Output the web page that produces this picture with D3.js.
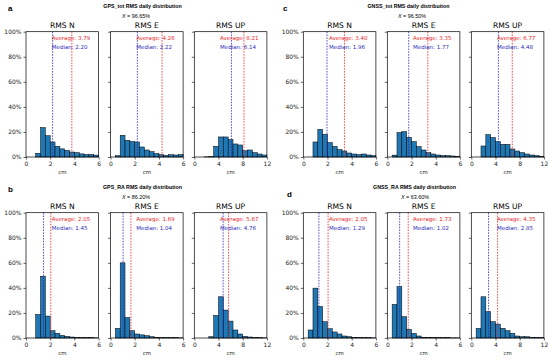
<!DOCTYPE html>
<html>
<head>
<meta charset="utf-8">
<script src="https://cdn.jsdelivr.net/npm/d3@7/dist/d3.min.js"></script>
<style>
  html, body { margin: 0; padding: 0; background: #fff; }
  svg { display: block; }
  .mpl { font-family: 'DejaVu Sans', sans-serif; }
  .head { font-family: 'Liberation Sans', Arial, sans-serif; }
</style>
</head>
<body>
<script>
'use strict';

// ---- data ----
const components = ['RMS N', 'RMS E', 'RMS UP'];
const groupLetters = ['a', 'b', 'c', 'd'];
const groupTitles = [
  'GPS_tot RMS daily distribution',
  'GPS_RA RMS daily distribution',
  'GNSS_tot RMS daily distribution',
  'GNSS_RA RMS daily distribution'
];
const groupShares = ['96.65%', '86.20%', '96.50%', '63.60%'];

const averages = [
  [3.79, 4.26, 8.21],
  [2.05, 1.69, 5.67],
  [3.40, 3.35, 6.77],
  [2.05, 1.73, 4.35]
];
const medians = [
  [2.20, 2.22, 6.14],
  [1.45, 1.04, 4.76],
  [1.96, 1.77, 4.48],
  [1.29, 1.02, 2.85]
];

// x ranges (cm) and bin widths: N and E on 0–6, UP on 0–12
const xMax = [6, 6, 12];
const binWidth = [0.4, 0.4, 0.8];
const xTicks = [[0, 2, 4, 6], [0, 2, 4, 6], [0, 4, 8, 12]];
const yTicks = [0, 20, 40, 60, 80, 100];

// share of days per bin (%)
const gpsTotN = [0, 0, 3, 23.5, 17, 12, 8.5, 6.5, 5.3, 4, 3.5, 2.5, 2, 2, 1.5];
const gpsTotE = [0, 1, 17.3, 13.3, 12.3, 12, 8, 5.6, 4.3, 2.7, 1.9, 1.3, 1.9, 1.6, 1.9];
const gpsTotUp = [0, 0, 0.1, 0.2, 8.5, 16, 16, 13.9, 10.4, 9.6, 5, 5.6, 3.5, 2.4, 1.6];

const gpsRaN = [0, 0, 18.8, 49.3, 17.5, 5.8, 3.7, 2.1, 1.3, 0.8, 0.3, 0.3, 0.3, 0.2, 0.1];
const gpsRaE = [0, 7.7, 60, 16.2, 5.8, 3.2, 2.5, 1.8, 1, 0.6, 0.3, 0.3, 0.2, 0.2, 0.1];
const gpsRaUp = [0, 0, 0, 1, 18, 32.9, 22.3, 13.5, 6.4, 3.2, 1.3, 0.8, 0.3, 0.2, 0.1];

const gnssTotN = [0, 0, 12, 22.1, 18.1, 11.5, 8.5, 5.9, 4.8, 3.2, 2.4, 1.9, 2.4, 1.6, 1.1];
const gnssTotE = [0, 1.5, 19.5, 20.3, 15.7, 12.3, 8.3, 5.6, 3.5, 2.4, 1.6, 1.1, 1.1, 0.8, 0.5];
const gnssTotUp = [0, 0, 8.8, 17.9, 15.5, 12.3, 10.1, 10.1, 6.4, 4.8, 3.5, 2.4, 1.6, 1.1, 0.5];

const gnssRaN = [0, 6.4, 39.8, 25.2, 13, 7.4, 4.8, 3.2, 1.6, 1, 0.6, 0.3, 0.3, 0.2, 0.1];
const gnssRaE = [0, 26.8, 41, 17, 6.9, 3.7, 1.6, 0.6, 0.4, 0.3, 0.3, 0.2, 0.2, 0.1, 0.1];
const gnssRaUp = [0, 7.7, 32.9, 21, 13, 11.1, 7.7, 5.8, 3.7, 1.6, 1, 1, 0.6, 0.5, 0.3];

const histograms = [
  [gpsTotN, gpsTotE, gpsTotUp],
  [gpsRaN, gpsRaE, gpsRaUp],
  [gnssTotN, gnssTotE, gnssTotUp],
  [gnssRaN, gnssRaE, gnssRaUp]
];

// ---- layout ----
const width = 550;
const height = 361;
const axWidth = 72.6;
const axHeight = 125.3;
const colLefts = [[26, 110.5, 194.3], [303.3, 387.3, 471.3]];
const rowTops = [31.7, 212.7];
const groupCol = [0, 0, 1, 1];
const groupRow = [0, 1, 0, 1];
const titleCenter = [142.5, 142.5, 408.5, 414.5];
const shareCenter = [136, 136, 412, 415];
const letterPos = [[8, 11], [8, 192], [283, 11], [287, 197]];

const avgColor = '#e8262a';
const medColor = '#2a2ab8';
const barColor = '#1f77b4';

const svg = d3.select('body').append('svg')
  .attr('width', width)
  .attr('height', height);

groupLetters.forEach(function(letter, g) {
  const top = rowTops[groupRow[g]];
  const lefts = colLefts[groupCol[g]];

  svg.append('text')
    .attr('class', 'head')
    .attr('x', letterPos[g][0])
    .attr('y', letterPos[g][1])
    .style('font-size', '8px')
    .style('font-weight', 'bold')
    .text(letter);

  svg.append('text')
    .attr('class', 'head')
    .attr('x', titleCenter[g])
    .attr('y', top - 23.3)
    .attr('text-anchor', 'middle')
    .style('font-size', '5.3px')
    .style('font-weight', 'bold')
    .text(groupTitles[g]);

  const share = svg.append('text')
    .attr('class', 'head')
    .attr('x', shareCenter[g])
    .attr('y', top - 14)
    .attr('text-anchor', 'middle')
    .style('font-size', '5.4px');
  share.append('tspan').style('font-style', 'italic').text('X');
  share.append('tspan').text(' = ' + groupShares[g]);

  components.forEach(function(comp, c) {
    drawPanel(lefts[c], top, c, histograms[g][c], averages[g][c], medians[g][c], comp, c === 0);
  });
});

function drawPanel(left, top, c, values, avg, med, title, showYLabels) {
  const x = d3.scaleLinear().domain([0, xMax[c]]).range([0, axWidth]);
  const y = d3.scaleLinear().domain([0, 100]).range([axHeight, 0]);
  const bins = values.map(function(v, i) {
    return { x0: i * binWidth[c], x1: (i + 1) * binWidth[c], v: v };
  });

  const g = svg.append('g')
    .attr('class', 'mpl')
    .attr('transform', 'translate(' + left + ',' + top + ')');

  g.selectAll('rect.bar')
    .data(bins)
    .enter().append('rect')
    .attr('class', 'bar')
    .attr('x', function(d) { return x(d.x0); })
    .attr('width', function(d) { return x(d.x1) - x(d.x0); })
    .attr('y', function(d) { return y(d.v); })
    .attr('height', function(d) { return axHeight - y(d.v); })
    .attr('fill', barColor)
    .attr('stroke', '#000')
    .attr('stroke-width', 0.5);

  g.append('line')
    .attr('x1', x(med)).attr('x2', x(med))
    .attr('y1', 0).attr('y2', axHeight)
    .attr('stroke', medColor)
    .attr('stroke-width', 0.8)
    .attr('stroke-dasharray', '1.6,1.2');

  g.append('line')
    .attr('x1', x(avg)).attr('x2', x(avg))
    .attr('y1', 0).attr('y2', axHeight)
    .attr('stroke', avgColor)
    .attr('stroke-width', 0.8)
    .attr('stroke-dasharray', '1.6,1.2');

  const xAxis = g.append('g')
    .attr('transform', 'translate(0,' + axHeight + ')')
    .call(d3.axisBottom(x).tickValues(xTicks[c]).tickSize(2.5).tickPadding(2).tickFormat(d3.format('d')));
  const yAxis = g.append('g')
    .call(d3.axisLeft(y).tickValues(yTicks).tickSize(2.5).tickPadding(2)
      .tickFormat(showYLabels ? function(d) { return d + '%'; } : ''));

  [xAxis, yAxis].forEach(function(ax) {
    ax.select('.domain').remove();
    ax.selectAll('line').attr('stroke', '#000').attr('stroke-width', 0.6);
    ax.selectAll('text')
      .attr('fill', '#222')
      .style('font-family', "'DejaVu Sans', sans-serif")
      .style('font-size', '6px');
  });

  g.append('rect')
    .attr('width', axWidth)
    .attr('height', axHeight)
    .attr('fill', 'none')
    .attr('stroke', '#000')
    .attr('stroke-width', 0.7);

  g.append('text')
    .attr('x', axWidth / 2)
    .attr('y', -3.8)
    .attr('text-anchor', 'middle')
    .style('font-size', '7.6px')
    .text(title);

  g.append('text')
    .attr('x', axWidth / 2)
    .attr('y', axHeight + 17.5)
    .attr('text-anchor', 'middle')
    .attr('fill', '#222')
    .style('font-size', '5.4px')
    .text('cm');

  g.append('text')
    .attr('x', axWidth * 0.355)
    .attr('y', axHeight * 0.05 + 2)
    .attr('fill', avgColor)
    .style('font-size', '5.5px')
    .text('Average: ' + avg.toFixed(2));

  g.append('text')
    .attr('x', axWidth * 0.355)
    .attr('y', axHeight * 0.12 + 2)
    .attr('fill', medColor)
    .style('font-size', '5.5px')
    .text('Median: ' + med.toFixed(2));
}
</script>
</body>
</html>
